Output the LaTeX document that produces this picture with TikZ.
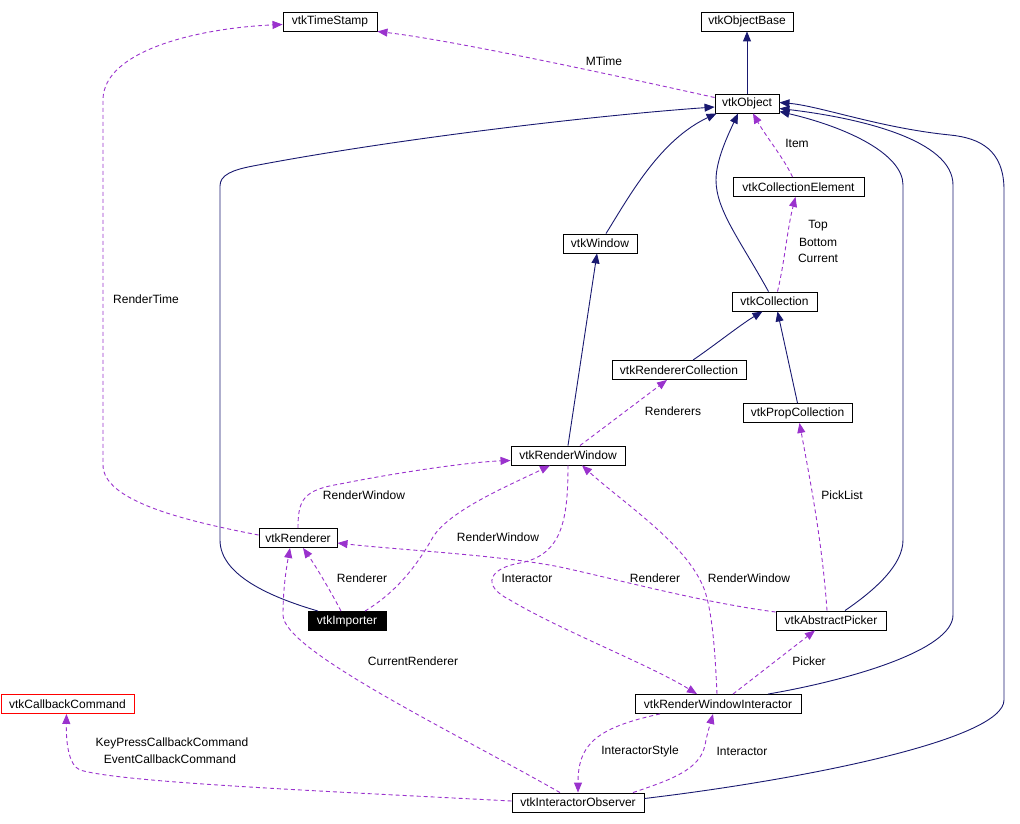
\documentclass[tikz,border=0pt]{standalone}
\usepackage{fontspec}
\setmainfont{Liberation Sans}
\usetikzlibrary{arrows.meta}
\definecolor{navy}{RGB}{25,25,112}
\definecolor{usecol}{RGB}{154,50,205}
\tikzset{
  cls/.style={draw=black, line width=0.9pt, minimum height=19pt, inner sep=0pt, font=\fontsize{12}{14}\selectfont},
  inh/.style={navy, line width=0.9pt, -{Triangle[length=10pt,width=8pt]}},
  usage/.style={usecol, line width=0.9pt, dash pattern=on 4pt off 3pt, -{Triangle[length=10pt,width=8pt]}},
  lbl/.style={inner sep=0pt, font=\fontsize{12}{14}\selectfont, align=center}
}
\begin{document}
\begin{tikzpicture}[x=1pt,y=-1pt]
\useasboundingbox (0,0) rectangle (1020,824);
% nodes
\node[cls, minimum width=94pt] (ts) at (330,21.5) {vtkTimeStamp};
\node[cls, minimum width=92pt] (ob) at (747,21.5) {vtkObjectBase};
\node[cls, minimum width=64pt] (obj) at (747,103.5) {vtkObject};
\node[cls, minimum width=131pt] (ce) at (798.5,187) {vtkCollectionElement};
\node[cls, minimum width=74pt] (win) at (600,243.5) {vtkWindow};
\node[cls, minimum width=85pt] (col) at (774.5,301.5) {vtkCollection};
\node[cls, minimum width=134pt] (rc) at (679,370) {vtkRendererCollection};
\node[cls, minimum width=109pt] (pc) at (797.5,413) {vtkPropCollection};
\node[cls, minimum width=114pt] (rw) at (568,455.5) {vtkRenderWindow};
\node[cls, minimum width=78pt] (ren) at (298,538) {vtkRenderer};
\node[cls, minimum width=78pt, fill=black, text=white] (imp) at (347,621) {vtkImporter};
\node[cls, draw=red, minimum width=133pt] (cb) at (67.5,704) {vtkCallbackCommand};
\node[cls, minimum width=110pt] (ap) at (831,620.5) {vtkAbstractPicker};
\node[cls, minimum width=166pt] (rwi) at (718,704) {vtkRenderWindowInteractor};
\node[cls, minimum width=132pt] (io) at (578,802.5) {vtkInteractorObserver};
% inheritance
\draw[inh] (obj.north) -- (ob.south);
\draw[inh] ([xshift=-29pt]imp.north) .. controls (270,597) and (220,575) .. (220,540) -- (220,186) .. controls (220,175) and (232,170) .. (253,166) .. controls (400,138) and (600,115) .. ([yshift=-3.5pt]obj.west);
\draw[inh] ([xshift=6pt]win.north) .. controls (630,195) and (660,140) .. ([xshift=2pt]obj.south west);
\draw[inh] ([xshift=-6pt]col.north) .. controls (740,240) and (716,210) .. (716,180) .. controls (716,160) and (728,135) .. ([xshift=-9pt]obj.south);
\draw[inh] (rw.north) -- ([xshift=-3pt]win.south);
\draw[inh] ([xshift=14pt]rc.north) .. controls (715,345) and (740,325) .. ([xshift=-12pt]col.south);
\draw[inh] (pc.north) -- ([xshift=3pt]col.south);
\draw[inh] ([xshift=14pt]ap.north) .. controls (875,590) and (903,565) .. (903,540) -- (903,185) .. controls (903,155) and (850,128) .. ([yshift=-8pt]obj.east);
\draw[inh] ([xshift=50pt]rwi.north) .. controls (850,680) and (953,650) .. (953,615) -- (953,185) .. controls (953,140) and (860,118) .. ([yshift=-5pt]obj.east);
\draw[inh] ([yshift=4pt]io.east) .. controls (800,780) and (1004,740) .. (1004,700) -- (1004,190) .. controls (1004,150) and (980,138) .. (950,135) .. controls (880,128) and (820,106) .. ([yshift=1pt]obj.east);
% usage
\draw[usage] ([yshift=6pt]obj.west) .. controls (600,72) and (450,40) .. (ts.south east);
\draw[usage] ([yshift=3pt]ren.west) .. controls (180,520) and (103,500) .. (103,465) -- (103,100) .. controls (103,50) and (200,28) .. ([yshift=-3pt]ts.west);
\draw[usage] ([xshift=-6pt]ce.north) .. controls (785,160) and (765,135) .. ([xshift=6pt]obj.south);
\draw[usage] ([xshift=3pt]col.north) .. controls (785,260) and (787,230) .. ([xshift=-3pt]ce.south);
\draw[usage] ([xshift=12pt]rw.north) -- ([xshift=-12pt]rc.south);
\draw[usage] ([xshift=-4pt]ap.north) .. controls (822,540) and (810,480) .. ([xshift=2pt]pc.south);
\draw[usage] (ren.north) .. controls (298,500) and (303,490) .. (340,484) .. controls (400,472) and (470,462) .. ([yshift=-5pt]rw.west);
\draw[usage] ([xshift=18pt]imp.north) .. controls (400,590) and (420,560) .. (433,537) .. controls (450,510) and (510,485) .. ([xshift=-18pt]rw.south);
\draw[usage] ([xshift=-6pt]imp.north) .. controls (330,590) and (315,565) .. ([xshift=5pt]ren.south);
\draw[usage] ([xshift=-18pt]io.north) .. controls (450,730) and (283,650) .. (283,615) .. controls (283,590) and (286,570) .. ([xshift=-8pt]ren.south);
\draw[usage] ([yshift=8.5pt]ap.west) .. controls (700,602) and (620,580) .. (560,567) .. controls (500,555) and (400,550) .. ([yshift=-5pt]ren.east);
\draw[usage] (rw.south) .. controls (568,520) and (562,555) .. (520,563) .. controls (490,568) and (480,585) .. (510,600) .. controls (560,630) and (650,665) .. ([xshift=-21pt]rwi.north);
\draw[usage] ([xshift=-1pt]rwi.north) .. controls (715,650) and (712,600) .. (700,580) .. controls (680,540) and (620,500) .. ([xshift=14pt]rw.south);
\draw[usage] ([xshift=15pt]rwi.north) -- ([xshift=-16pt]ap.south);
\draw[usage] ([xshift=-58pt]rwi.south) .. controls (595,728) and (578,745) .. (io.north);
\draw[usage] ([xshift=55pt]io.north) .. controls (670,780) and (700,770) .. (705,745) .. controls (708,730) and (710,725) .. ([xshift=-5pt]rwi.south);
\draw[usage] ([yshift=1.5pt]io.west) .. controls (300,790) and (120,782) .. (80,770) .. controls (68,765) and (66,740) .. ([xshift=-1pt]cb.south);
% labels
\node[lbl] (lMTime) at (604,61) {MTime};
\node[lbl] (lItem) at (797,143) {Item};
\node[lbl] (lTop) at (818,226) {Top};
\node[lbl] (lBottom) at (818,242) {Bottom};
\node[lbl] (lCurrent) at (818,258) {Current};
\node[lbl] (lRenderTime) at (146,299) {RenderTime};
\node[lbl] (lRW1) at (364,495) {RenderWindow};
\node[lbl] (lRW2) at (498,537) {RenderWindow};
\node[lbl] (lRenderers) at (673,411) {Renderers};
\node[lbl] (lPickList) at (842,495) {PickList};
\node[lbl] (lRen1) at (362,578) {Renderer};
\node[lbl] (lInt1) at (527,578) {Interactor};
\node[lbl] (lRen2) at (655,578) {Renderer};
\node[lbl] (lRW3) at (749,578) {RenderWindow};
\node[lbl] (lCurRen) at (413,661) {CurrentRenderer};
\node[lbl] (lPicker) at (809,661) {Picker};
\node[lbl] (lKey) at (172,743) {KeyPressCallbackCommand};
\node[lbl] (lEvent) at (170,759) {EventCallbackCommand};
\node[lbl] (lIStyle) at (640,751) {InteractorStyle};
\node[lbl] (lInt2) at (742,751) {Interactor};
\end{tikzpicture}
\end{document}
